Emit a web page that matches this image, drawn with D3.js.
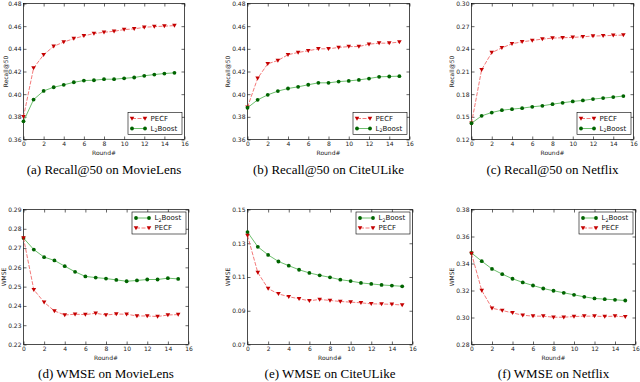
<!DOCTYPE html>
<html>
<head>
<meta charset="utf-8">
<script src="https://cdn.jsdelivr.net/npm/d3@7"></script>
<style>
  body { margin: 0; background: #fff; }
  svg { display: block; }
</style>
</head>
<body>
<svg id="chart" width="640" height="382"></svg>
<script>
// x values (boosting rounds) and axis ticks
const ROUNDS = [0, 1, 2, 3, 4, 5, 6, 7, 8, 9, 10, 11, 12, 13, 14, 15];
const X_TICKS = [0, 2, 4, 6, 8, 10, 12, 14, 16];

// Recall@50 curves
const ML_RECALL_PECF = [0.380, 0.423, 0.4348, 0.4422, 0.446, 0.449, 0.4514, 0.4535, 0.4546, 0.4555, 0.457, 0.4576, 0.459, 0.4596, 0.460, 0.4605];
const ML_RECALL_L2 = [0.376, 0.3952, 0.4029, 0.4061, 0.4082, 0.4105, 0.412, 0.4123, 0.4132, 0.4132, 0.414, 0.4147, 0.4162, 0.4173, 0.4182, 0.4188];
const CU_RECALL_PECF = [0.3885, 0.414, 0.4268, 0.4297, 0.4348, 0.4368, 0.4383, 0.440, 0.440, 0.4412, 0.442, 0.442, 0.4441, 0.445, 0.445, 0.446];
const CU_RECALL_L2 = [0.388, 0.395, 0.3994, 0.4027, 0.405, 0.4065, 0.4083, 0.410, 0.410, 0.4111, 0.4117, 0.4126, 0.4138, 0.4153, 0.4156, 0.4159];
const NF_RECALL_PECF = [0.1415, 0.2124, 0.235, 0.2413, 0.2467, 0.2493, 0.2511, 0.2529, 0.2542, 0.2547, 0.2551, 0.256, 0.2569, 0.2573, 0.2578, 0.2582];
const NF_RECALL_L2 = [0.1415, 0.1513, 0.1557, 0.1588, 0.1602, 0.1615, 0.1633, 0.1646, 0.1668, 0.1686, 0.1704, 0.1717, 0.1735, 0.1748, 0.1761, 0.1775];

// WMSE curves
const ML_WMSE_L2 = [0.2752, 0.2692, 0.2653, 0.2636, 0.2606, 0.2577, 0.2553, 0.2547, 0.2542, 0.2535, 0.2528, 0.2532, 0.2537, 0.2537, 0.2544, 0.254];
const ML_WMSE_PECF = [0.2752, 0.2484, 0.2419, 0.2374, 0.2353, 0.2357, 0.2355, 0.2362, 0.2353, 0.2358, 0.2357, 0.2348, 0.2348, 0.2345, 0.2353, 0.2355];
const CU_WMSE_L2 = [0.1366, 0.1279, 0.1231, 0.1192, 0.1167, 0.1143, 0.1124, 0.111, 0.1098, 0.1084, 0.1076, 0.1065, 0.1059, 0.1053, 0.1049, 0.1045];
const CU_WMSE_PECF = [0.1346, 0.1126, 0.1031, 0.100, 0.0983, 0.0971, 0.0959, 0.0967, 0.0961, 0.0955, 0.0951, 0.0947, 0.0941, 0.094, 0.0938, 0.0934];
const NF_WMSE_L2 = [0.3478, 0.3417, 0.336, 0.3321, 0.3287, 0.326, 0.3237, 0.3215, 0.3198, 0.3183, 0.3168, 0.3153, 0.3141, 0.3136, 0.3131, 0.3126];
const NF_WMSE_PECF = [0.3473, 0.320, 0.3069, 0.3052, 0.3034, 0.3017, 0.301, 0.301, 0.3002, 0.3002, 0.3007, 0.301, 0.301, 0.3007, 0.301, 0.3005];

// y tick labels per panel
const Y_TICKS_A = [0.36, 0.38, 0.40, 0.42, 0.44, 0.46, 0.48];
const Y_TICKS_B = [0.36, 0.38, 0.40, 0.42, 0.44, 0.46, 0.48];
const Y_TICKS_C = [0.12, 0.15, 0.18, 0.21, 0.24, 0.27, 0.30];
const Y_TICKS_D = [0.22, 0.23, 0.24, 0.25, 0.26, 0.27, 0.28, 0.29];
const Y_TICKS_E = [0.07, 0.09, 0.11, 0.13, 0.15];
const Y_TICKS_F = [0.28, 0.30, 0.32, 0.34, 0.36, 0.38];

const CAPTIONS = [
  '(a) Recall@50 on MovieLens', '(b) Recall@50 on CiteULike', '(c) Recall@50 on Netflix',
  '(d) WMSE on MovieLens', '(e) WMSE on CiteULike', '(f) WMSE on Netflix'
];

const SVG = d3.select('#chart');
const TICK_FONT = '"DejaVu Sans", sans-serif';

// series styles
const PECF_STYLE = { name: 'PECF', line: '#f26a6a', mark: '#c40000', dash: '4,1.5', shape: 'tri' };
const L2_STYLE = { name: 'L2Boost', line: '#5cb85c', mark: '#006400', dash: null, shape: 'dot' };

const PANELS = [
  { left: 23.5, right: 184.5, top: 3.5, bottom: 139.5, yTicks: Y_TICKS_A, ylab: 'Recall@50', ylx: 5,
    series: [[ML_RECALL_PECF, PECF_STYLE], [ML_RECALL_L2, L2_STYLE]], legend: 'bottom', cap: CAPTIONS[0], capY: 174 },
  { left: 247.5, right: 409.5, top: 3.5, bottom: 139.5, yTicks: Y_TICKS_B, ylab: 'Recall@50', ylx: 227,
    series: [[CU_RECALL_PECF, PECF_STYLE], [CU_RECALL_L2, L2_STYLE]], legend: 'bottom', cap: CAPTIONS[1], capY: 174 },
  { left: 471.5, right: 633.5, top: 3.5, bottom: 139.5, yTicks: Y_TICKS_C, ylab: 'Recall@50', ylx: 451,
    series: [[NF_RECALL_PECF, PECF_STYLE], [NF_RECALL_L2, L2_STYLE]], legend: 'bottom', cap: CAPTIONS[2], capY: 174 },
  { left: 23.5, right: 188.5, top: 209.5, bottom: 344.5, yTicks: Y_TICKS_D, ylab: 'WMSE', ylx: 3,
    series: [[ML_WMSE_L2, L2_STYLE], [ML_WMSE_PECF, PECF_STYLE]], legend: 'top', cap: CAPTIONS[3], capY: 378 },
  { left: 247.5, right: 412.5, top: 209.5, bottom: 344.5, yTicks: Y_TICKS_E, ylab: 'WMSE', ylx: 227,
    series: [[CU_WMSE_L2, L2_STYLE], [CU_WMSE_PECF, PECF_STYLE]], legend: 'top', cap: CAPTIONS[4], capY: 378 },
  { left: 471.5, right: 635.5, top: 209.5, bottom: 344.5, yTicks: Y_TICKS_F, ylab: 'WMSE', ylx: 451,
    series: [[NF_WMSE_L2, L2_STYLE], [NF_WMSE_PECF, PECF_STYLE]], legend: 'top', cap: CAPTIONS[5], capY: 378 },
];

function drawMarker(g, shape, x, y, color) {
  if (shape === 'tri') {
    g.append('path')
      .attr('d', `M${x - 2.3},${y - 1.8}L${x + 2.3},${y - 1.8}L${x},${y + 2.2}Z`)
      .attr('fill', color);
  } else {
    g.append('circle').attr('cx', x).attr('cy', y).attr('r', 1.9).attr('fill', color);
  }
}

function styleAxis(g) {
  g.select('.domain').remove();
  g.selectAll('line').attr('stroke', '#000').attr('stroke-width', 0.6);
  g.selectAll('text').attr('font-family', TICK_FONT).attr('font-size', 6).attr('fill', '#222');
}

PANELS.forEach((p, idx) => {
  const x = d3.scaleLinear().domain([0, 16]).range([p.left, p.right]);
  const y = d3.scaleLinear().domain(d3.extent(p.yTicks)).range([p.bottom, p.top]);
  const fmt = d3.format('.2f');
  const g = SVG.append('g').attr('id', `panel${idx}`);

  // axes with inward ticks on all four sides
  g.append('g').attr('transform', `translate(0,${p.bottom})`)
    .call(d3.axisBottom(x).tickValues(X_TICKS).tickSizeInner(-3).tickSizeOuter(0).tickPadding(2.5).tickFormat(d3.format('d')))
    .call(styleAxis);
  g.append('g').attr('transform', `translate(0,${p.top})`)
    .call(d3.axisTop(x).tickValues(X_TICKS).tickSizeInner(-3).tickSizeOuter(0).tickFormat(''))
    .call(styleAxis);
  g.append('g').attr('transform', `translate(${p.left},0)`)
    .call(d3.axisLeft(y).tickValues(p.yTicks).tickSizeInner(-3).tickSizeOuter(0).tickPadding(2).tickFormat(fmt))
    .call(styleAxis);
  g.append('g').attr('transform', `translate(${p.right},0)`)
    .call(d3.axisRight(y).tickValues(p.yTicks).tickSizeInner(-3).tickSizeOuter(0).tickFormat(''))
    .call(styleAxis);

  g.append('rect')
    .attr('x', p.left).attr('y', p.top)
    .attr('width', p.right - p.left).attr('height', p.bottom - p.top)
    .attr('fill', 'none').attr('stroke', '#000').attr('stroke-width', 0.7);

  // series
  p.series.forEach(([vals, st]) => {
    const line = d3.line().x((d, i) => x(ROUNDS[i])).y(d => y(d));
    g.append('path').datum(vals)
      .attr('d', line)
      .attr('fill', 'none')
      .attr('stroke', st.line)
      .attr('stroke-width', 0.9)
      .attr('stroke-dasharray', st.dash);
    vals.forEach((v, i) => drawMarker(g, st.shape, x(ROUNDS[i]), y(v), st.mark));
  });

  // legend
  const lw = 54, lh = 22;
  const lx = p.right - 2.5 - lw;
  const ly = p.legend === 'bottom' ? p.bottom - 5 - lh : p.top + 2.5;
  const lg = g.append('g');
  lg.append('rect').attr('x', lx).attr('y', ly).attr('width', lw).attr('height', lh)
    .attr('fill', '#fff').attr('stroke', '#000').attr('stroke-width', 0.6);
  p.series.forEach(([vals, st], k) => {
    const ry = ly + 6 + k * 10;
    lg.append('line').attr('x1', lx + 4).attr('x2', lx + 17).attr('y1', ry).attr('y2', ry)
      .attr('stroke', st.line).attr('stroke-width', 0.9).attr('stroke-dasharray', st.dash);
    drawMarker(lg, st.shape, lx + 4, ry, st.mark);
    drawMarker(lg, st.shape, lx + 17, ry, st.mark);
    const t = lg.append('text').attr('x', lx + 22.5).attr('y', ry + 2.4)
      .attr('font-family', TICK_FONT).attr('font-size', 7).attr('fill', '#111');
    if (st.name === 'L2Boost') {
      t.append('tspan').text('L');
      t.append('tspan').attr('font-size', 4.8).attr('dy', 1.5).text('2');
      t.append('tspan').attr('dy', -1.5).text('Boost');
    } else {
      t.text(st.name);
    }
  });

  // axis labels
  g.append('text')
    .attr('x', (p.left + p.right) / 2).attr('y', p.bottom + 15.5)
    .attr('text-anchor', 'middle')
    .attr('font-family', TICK_FONT).attr('font-size', 6).attr('fill', '#222')
    .text('Round#');
  g.append('text')
    .attr('transform', `translate(${p.ylx},${(p.top + p.bottom) / 2}) rotate(-90)`)
    .attr('text-anchor', 'middle').attr('dominant-baseline', 'central')
    .attr('font-family', TICK_FONT).attr('font-size', 6).attr('fill', '#222')
    .text(p.ylab);

  // caption
  g.append('text')
    .attr('x', (p.left + p.right) / 2).attr('y', p.capY)
    .attr('text-anchor', 'middle')
    .attr('font-family', '"Liberation Serif", "Times New Roman", serif')
    .attr('font-size', 13).attr('fill', '#000')
    .text(p.cap);
});
</script>
</body>
</html>
